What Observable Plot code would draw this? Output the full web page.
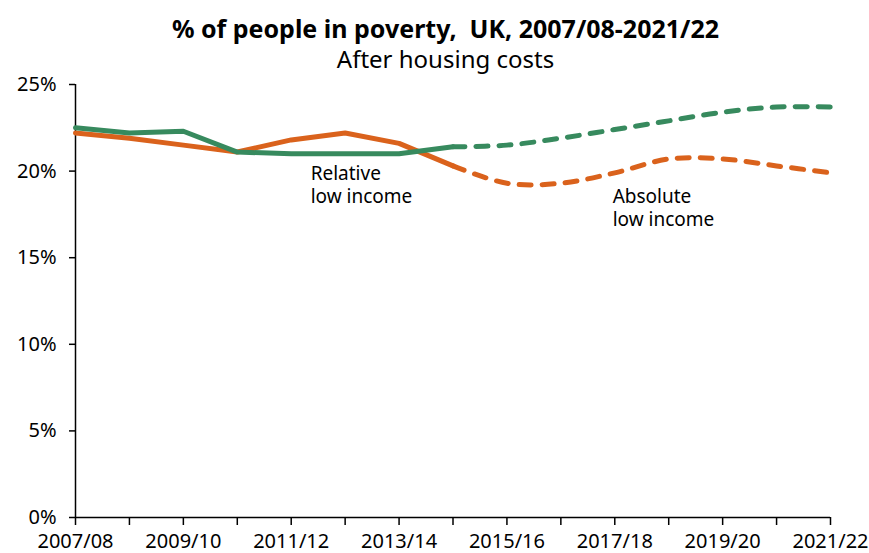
<!DOCTYPE html>
<html><head><meta charset="utf-8">
<script src="https://cdn.jsdelivr.net/npm/d3@7"></script>
<script src="https://cdn.jsdelivr.net/npm/@observablehq/plot@0.6"></script>
<style>
body{margin:0;background:#fff;font-family:"Noto Sans",sans-serif;width:869px;height:553px;overflow:hidden;position:relative;}
#hdr{position:absolute;left:0;top:0;width:869px;text-align:center;padding-left:22px;box-sizing:border-box;padding-top:12px;z-index:2;}
#hdr .t{font-weight:bold;font-size:25px;line-height:32px;color:#000;}
#hdr .s{font-size:24px;line-height:30px;color:#000;}
#chart{position:absolute;left:0;top:0;}
</style></head><body>
<div id="hdr"><div class="t">% of people in poverty,&nbsp; UK, 2007/08-2021/22</div><div class="s">After housing costs</div></div>
<div id="chart"></div>
<script>
const years = ["2007/08","2008/09","2009/10","2010/11","2011/12","2012/13","2013/14","2014/15","2015/16","2016/17","2017/18","2018/19","2019/20","2020/21","2021/22"];
const relative = [22.5,22.2,22.3,21.1,21.0,21.0,21.0,21.4,21.5,21.9,22.4,22.9,23.4,23.7,23.7];
const absolute = [22.2,21.9,21.5,21.1,21.8,22.2,21.6,20.3,19.3,19.3,19.9,20.7,20.7,20.3,19.9];
const lastActualYear = "2014/15";
const yTicks = [0,5,10,15,20,25];
const labelText = ["Relative\nlow income","Absolute\nlow income"];
const labelYear = [4.36, 9.96];
const labelValue = [20.45, 19.1];

const cut = years.indexOf(lastActualYear);
const rows = (vals, series) => vals.map((v,i)=>({i, year: years[i], v, series}));
const rel = rows(relative,"rel"), abs = rows(absolute,"abs");
const green = "#378A5E", orange = "#DA621C";
const labels = labelText.map((t,k)=>({t, x:labelYear[k], y:labelValue[k]}));

const chart = Plot.plot({
  width: 869, height: 553,
  marginLeft: 75, marginRight: 39, marginTop: 84, marginBottom: 36,
  style: {fontFamily: '"Noto Sans", sans-serif', fontSize: "20px", color: "#000", background: "transparent"},
  x: {type: "linear", domain: [0, years.length-1]},
  y: {domain: [0, 25]},
  marks: [
    Plot.axisY({ticks: yTicks, tickFormat: d => d + "%", tickSize: 6, tickPadding: 13, label: null, fontSize: 20, stroke: "#000", strokeWidth: 1.5, strokeOpacity: 1}),
    Plot.axisX({ticks: d3.range(years.length), tickFormat: i => i % 2 === 0 ? years[i] : "", tickSize: 8, tickPadding: 8, label: null, fontSize: 20, stroke: "#000", strokeWidth: 1.5, strokeOpacity: 1}),
    Plot.ruleX([0], {stroke: "#000", strokeWidth: 1.5}),
    Plot.ruleY([0], {stroke: "#000", strokeWidth: 1.5}),
    Plot.line(abs.filter(d=>d.i<=cut), {x:"i", y:"v", stroke: orange, strokeWidth: 5}),
    Plot.line(abs.filter(d=>d.i>=cut), {x:"i", y:"v", stroke: orange, strokeWidth: 5, curve: "catmull-rom", strokeDasharray: "12,11", strokeLinecap: "round"}),
    Plot.line(rel.filter(d=>d.i<=cut), {x:"i", y:"v", stroke: green, strokeWidth: 5}),
    Plot.line(rel.filter(d=>d.i>=cut), {x:"i", y:"v", stroke: green, strokeWidth: 5, curve: "catmull-rom", strokeDasharray: "12,11", strokeLinecap: "round"}),
    Plot.text(labels, {x:"x", y:"y", text:"t", textAnchor:"start", lineAnchor:"top", lineHeight: 1.22, fontSize: 19, fill:"#000"})
  ]
});
document.getElementById("chart").appendChild(chart);
</script>
</body></html>
